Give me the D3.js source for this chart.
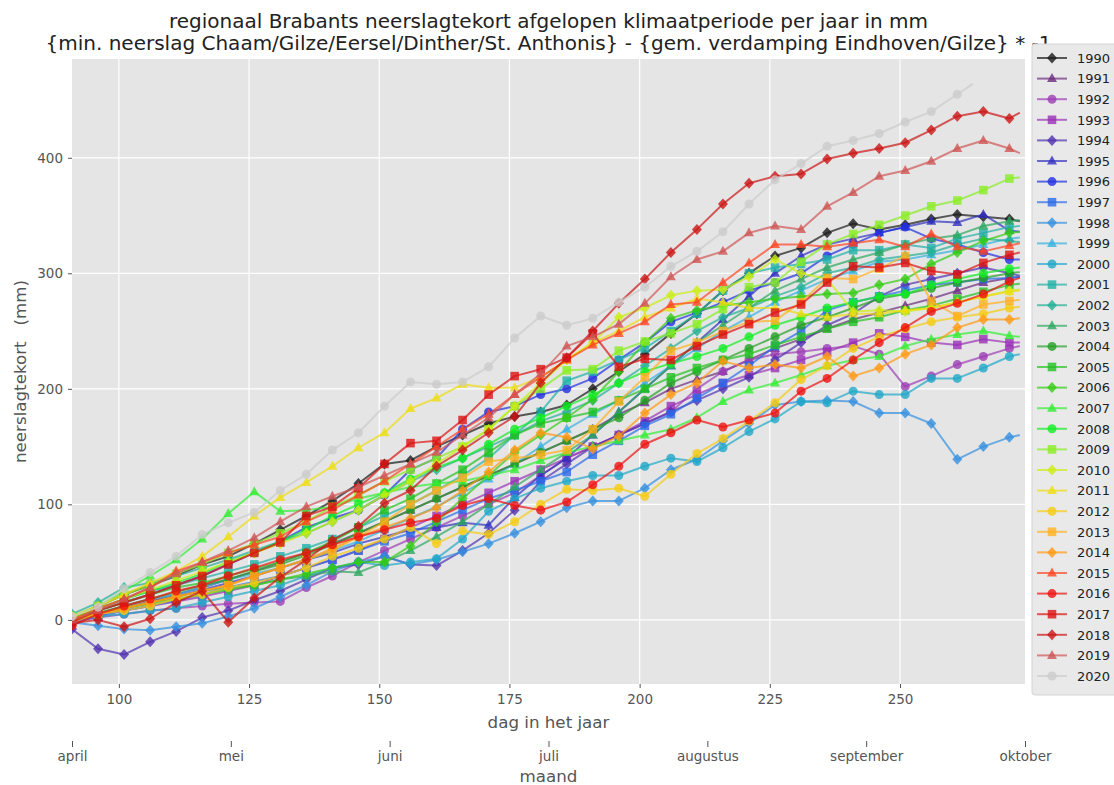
<!DOCTYPE html>
<html><head><meta charset="utf-8">
<script src="https://cdn.jsdelivr.net/npm/d3@7"></script>
<style>body{margin:0;background:#fff;} text{font-family:"DejaVu Sans",sans-serif;}</style>
</head><body><svg id="c" width="1114" height="785"></svg>
<script>
const years = ["1990","1991","1992","1993","1994","1995","1996","1997","1998","1999","2000","2001","2002","2003","2004","2005","2006","2007","2008","2009","2010","2011","2012","2013","2014","2015","2016","2017","2018","2019","2020"];
const markerDays = [91,96,101,106,111,116,121,126,131,136,141,146,151,156,161,166,171,176,181,186,191,196,201,206,211,216,221,226,231,236,241,246,251,256,261,266,271];
const y1990 = [2,12,22,30,38,48,55,66,78,90,103,118,135,138,150,160,170,176,180,186,200,215,230,248,265,285,300,315,322,335,343,338,342,347,351,349,347];
const y1991 = [0,5,10,16,22,28,35,42,50,58,66,75,85,95,105,115,125,135,145,155,165,178,188,200,208,215,225,235,243,252,260,266,272,278,285,292,296];
const y1992 = [-2,2,5,8,10,12,14,15,16,28,38,50,60,70,80,90,100,110,125,140,150,160,170,180,200,215,225,230,232,235,237,230,202,211,221,228,235];
const y1993 = [0,4,8,12,16,20,25,30,38,45,52,60,70,80,90,100,110,120,130,140,150,160,172,185,195,205,212,218,225,232,240,248,245,240,238,243,240];
const y1994 = [-8,-25,-30,-19,-10,2,8,17,25,35,45,48,55,48,47,60,75,95,120,135,150,160,170,180,190,200,210,225,240,255,265,280,290,295,300,305,300];
const y1995 = [0,5,10,15,20,26,32,38,45,52,58,66,72,78,80,84,82,106,125,140,160,180,200,220,240,260,280,300,315,325,330,335,340,345,344,351,337];
const y1996 = [0,8,15,22,30,38,48,58,68,80,88,95,108,130,140,165,180,185,195,200,209,225,240,258,266,275,285,292,300,315,325,335,340,330,325,318,312];
const y1997 = [-2,3,8,12,17,22,28,33,38,45,52,60,68,75,85,95,105,112,120,128,143,155,168,178,192,205,220,237,250,268,275,280,285,290,292,295,296];
const y1998 = [-2,-5,-8,-9,-6,-3,3,10,20,30,42,50,55,48,52,59,66,75,85,97,103,103,114,130,139,155,170,186,189,190,189,179,179,170,139,150,158];
const y1999 = [0,5,12,18,22,28,35,40,45,52,60,68,78,88,98,110,122,135,150,165,178,190,205,220,235,250,262,275,285,295,302,310,312,316,320,325,330];
const y2000 = [0,3,5,8,10,15,20,25,30,38,45,50,47,50,53,70,94,105,114,120,125,125,133,140,137,149,163,174,189,188,198,195,195,209,209,218,228];
const y2001 = [3,10,18,25,30,36,42,48,55,62,70,80,90,100,112,125,140,160,180,207,215,225,235,250,265,285,300,305,308,312,320,320,325,322,330,335,340];
const y2002 = [5,15,28,32,38,45,52,60,68,75,85,95,108,120,130,140,150,160,172,180,190,205,220,235,250,262,270,280,288,300,305,312,315,318,325,330,328];
const y2003 = [0,5,10,15,20,25,28,30,35,38,42,41,50,60,72,85,100,115,130,145,160,180,200,220,240,255,270,285,295,305,312,318,325,330,333,341,345];
const y2004 = [0,6,12,18,24,30,35,42,48,56,65,75,85,95,105,115,125,135,145,155,165,175,190,205,215,225,235,245,255,262,270,278,282,287,292,296,300];
const y2005 = [2,8,15,22,28,32,38,44,50,58,68,80,95,105,118,130,145,160,170,175,180,190,200,210,218,225,230,238,245,252,258,262,268,272,278,284,290];
const y2006 = [0,5,10,14,18,22,26,30,35,40,45,50,50,64,85,105,125,145,160,175,191,215,240,261,268,272,275,278,280,282,283,290,295,308,318,328,335];
const y2007 = [2,12,25,38,52,70,92,111,94,95,98,105,110,115,118,120,125,130,138,145,150,155,160,165,175,189,199,205,212,220,225,228,237,243,247,250,246];
const y2008 = [3,10,18,25,32,40,50,58,68,78,90,100,110,122,132,140,152,165,175,185,195,205,215,222,228,235,245,255,262,270,275,280,282,290,295,300,304];
const y2009 = [3,12,22,30,40,48,58,66,75,85,98,108,120,130,140,150,165,185,200,216,217,233,241,248,256,269,288,292,310,325,334,342,350,358,363,372,382];
const y2010 = [3,10,18,26,34,42,50,58,66,75,85,95,108,120,135,150,165,185,205,225,240,262,270,281,285,286,297,312,300,295,267,268,267,270,275,280,285];
const y2011 = [3,12,22,32,42,55,72,90,106,119,133,149,162,183,192,204,201,201,210,225,240,250,262,270,278,275,270,270,265,262,265,265,268,270,275,280,284];
const y2012 = [2,5,8,12,18,22,28,32,38,45,55,62,70,80,66,77,74,85,100,113,112,114,107,126,144,157,172,188,208,220,235,245,252,258,262,265,270];
const y2013 = [0,5,10,15,20,25,30,38,45,52,60,72,85,100,112,123,137,140,143,147,165,189,210,233,240,250,258,259,275,296,295,304,315,276,263,273,276];
const y2014 = [-2,5,10,15,20,25,30,38,45,52,62,72,80,88,97,112,128,147,162,158,148,159,179,195,205,224,218,221,218,228,211,218,230,238,253,260,260];
const y2015 = [0,10,18,28,42,50,58,65,72,85,95,108,120,135,150,165,178,195,210,225,238,248,258,273,275,292,309,325,325,323,326,329,323,334,323,319,324];
const y2016 = [-5,5,12,18,25,30,38,45,52,58,65,72,78,84,88,99,105,99,95,102,117,133,152,162,173,167,173,179,198,209,225,240,253,267,274,282,293];
const y2017 = [-2,8,15,22,30,38,48,58,67,90,98,114,135,153,155,173,195,211,217,227,248,219,226,225,237,247,256,266,273,292,306,305,309,302,299,309,316];
const y2018 = [-3,0,-6,1,15,25,-2,19,37,52,69,81,101,112,133,147,162,176,205,227,250,274,295,318,338,360,378,384,386,399,404,408,413,424,436,440,434];
const y2019 = [0,8,18,28,40,50,60,71,85,98,107,115,125,135,145,160,175,195,213,237,245,256,274,297,312,319,335,341,338,358,370,384,389,397,408,415,408];
const y2020 = [3,11,27,41,55,74,84,93,112,126,147,162,185,206,204,206,219,244,263,255,261,275,288,306,319,336,360,381,395,410,415,421,431,440,455,null,null];
const endDays = [273,273,273,273,273,273,273,273,273,273,273,273,273,273,273,273,273,273,273,273,273,273,273,273,273,273,273,273,273,273,264];
const endValues = [345,297,237,240,298,336,312,297,160,331,230,341,327,346,301,291,336,245,305,383,286,285,271,277,261,326,296,318,439,404,464];
const colors = ["#1a1a1a","#6b2c7e","#9c3db5","#9a30b8","#5030b0","#3030c0","#2030e0","#2a6ae8","#3590e0","#35b0e0","#20a8c8","#20b0a8","#22b095","#2ea860","#22a022","#22c022","#33cc11","#33ee33","#11ee22","#88ee22","#ccee11","#eedd11","#f5cc11","#ffb020","#ff9911","#ff4422","#ee1111","#dd1111","#cc1515","#d05555","#cccccc"];
const shapes = ["diamond","triangle","circle","square"];
const xTicks = [100,125,150,175,200,225,250];
const yTicks = [0,100,200,300,400];
const monthLabels = ["april","mei","juni","juli","augustus","september","oktober"];
const titleLines = ["regionaal Brabants neerslagtekort afgelopen klimaatperiode per jaar in mm","{min. neerslag Chaam/Gilze/Eersel/Dinther/St. Anthonis} - {gem. verdamping Eindhoven/Gilze} * -1"];

const seriesValues = [y1990,y1991,y1992,y1993,y1994,y1995,y1996,y1997,y1998,y1999,y2000,y2001,y2002,y2003,y2004,y2005,y2006,y2007,y2008,y2009,y2010,y2011,y2012,y2013,y2014,y2015,y2016,y2017,y2018,y2019,y2020];

const L=72, R=1025, T=59, B=684;
const svg = d3.select("#c");
const x = d3.scaleLinear().domain([91,274]).range([L,R]);
const y = d3.scaleLinear().domain([-55.5,485.5]).range([B,T]);

svg.append("rect").attr("x",L).attr("y",T).attr("width",R-L).attr("height",B-T).attr("fill","#e5e5e5");
const g = svg.append("g");
g.selectAll(".vg").data(xTicks).join("line").attr("x1",d=>x(d)).attr("x2",d=>x(d)).attr("y1",T).attr("y2",B).attr("stroke","#fff").attr("stroke-width",1.2);
g.selectAll(".hg").data(yTicks).join("line").attr("y1",d=>y(d)).attr("y2",d=>y(d)).attr("x1",L).attr("x2",R).attr("stroke","#fff").attr("stroke-width",1.2);

const xAxis = svg.append("g").attr("transform",`translate(0,${B})`).call(d3.axisBottom(x).tickValues(xTicks).tickSize(4).tickPadding(6));
const yAxis = svg.append("g").attr("transform",`translate(${L},0)`).call(d3.axisLeft(y).tickValues(yTicks).tickSize(4).tickPadding(5));
[xAxis,yAxis].forEach(a=>{a.select(".domain").remove();a.selectAll("line").attr("stroke","#555");a.selectAll("text").attr("fill","#555").attr("font-size","13.5px").attr("font-family","DejaVu Sans");});

const m = d3.scalePoint().domain(monthLabels).range([L,R]);
const mAxis = svg.append("g").attr("transform",`translate(0,741)`).call(d3.axisBottom(m).tickSize(6).tickPadding(4));
mAxis.select(".domain").remove();
mAxis.selectAll("line").attr("stroke","#555");
mAxis.selectAll("text").attr("fill","#555").attr("font-size","13.5px").attr("font-family","DejaVu Sans");

svg.append("text").attr("x",(L+R)/2).attr("y",728).attr("text-anchor","middle").attr("font-size","16.7px").attr("fill","#555").text("dag in het jaar");
svg.append("text").attr("x",(L+R)/2).attr("y",782).attr("text-anchor","middle").attr("font-size","16.7px").attr("fill","#555").text("maand");
svg.append("text").attr("transform",`translate(26,${(T+B)/2}) rotate(-90)`).attr("text-anchor","middle").attr("font-size","16.7px").attr("fill","#555").attr("xml:space","preserve").text("neerslagtekort   (mm)");
titleLines.forEach((t,i)=>svg.append("text").attr("x",(L+R)/2).attr("y",28+i*22).attr("text-anchor","middle").attr("font-size","20px").attr("fill","#222").text(t));

function markerPath(shape){
  if(shape==="diamond") return "M0,-5.5L5,0L0,5.5L-5,0Z";
  if(shape==="triangle") return "M0,-5.5L5,3.5L-5,3.5Z";
  if(shape==="square") return "M-4.3,-4.3H4.3V4.3H-4.3Z";
  return d3.symbol(d3.symbolCircle, 64)();
}

svg.append("clipPath").attr("id","pc").append("rect").attr("x",L).attr("y",T).attr("width",R-L).attr("height",B-T);
const plot = svg.append("g").attr("clip-path","url(#pc)");
const line = d3.line().x(d=>x(d[0])).y(d=>y(d[1]));
years.forEach((yr,i)=>{
  const vals = seriesValues[i];
  const pts = markerDays.map((d,j)=>[d,vals[j]]).filter(p=>p[1]!==null);
  const full = pts.concat([[endDays[i],endValues[i]]]);
  const gg = plot.append("g");
  gg.append("path").attr("d",line(full)).attr("fill","none").attr("stroke",colors[i]).attr("stroke-width",2).attr("stroke-opacity",0.7).attr("stroke-linejoin","round");
  gg.selectAll("path.mk").data(pts).join("path").attr("class","mk").attr("d",markerPath(shapes[i%4])).attr("transform",d=>`translate(${x(d[0])},${y(d[1])})`).attr("fill",colors[i]).attr("fill-opacity",0.8);
});

// legend
const lg = svg.append("g");
const lgStep = 20.6, lgTop = 58;
lg.append("rect").attr("x",1032).attr("y",44).attr("width",90).attr("height",651).attr("rx",3).attr("fill","#e9e9e9").attr("stroke","#d4d4d4");
years.forEach((yr,i)=>{
  const yy = lgTop + i*lgStep;
  lg.append("line").attr("x1",1037).attr("x2",1067).attr("y1",yy).attr("y2",yy).attr("stroke",colors[i]).attr("stroke-width",2).attr("stroke-opacity",0.7);
  lg.append("path").attr("d",markerPath(shapes[i%4])).attr("transform",`translate(1052,${yy})`).attr("fill",colors[i]).attr("fill-opacity",0.8);
  lg.append("text").attr("x",1077).attr("y",yy+4.7).attr("font-size","13px").attr("fill","#222").text(yr);
});
</script></body></html>
